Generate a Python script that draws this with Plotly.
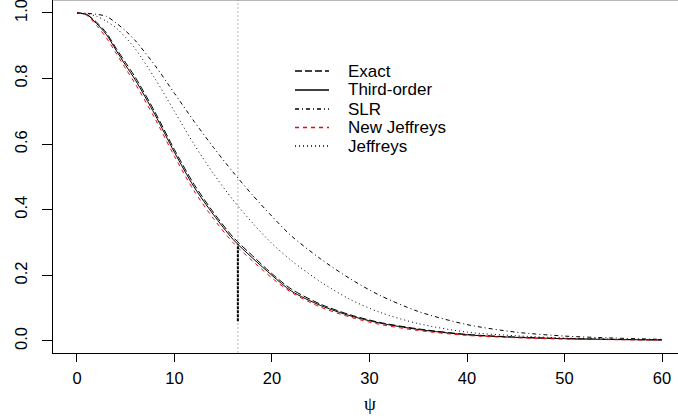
import plotly.graph_objects as go

# ---- data ----
psi = [0, 1, 2, 3, 4, 5, 6, 8, 10, 12, 14, 16, 18, 20, 22, 25, 28, 31, 35, 40, 45, 50, 55, 60]
exact = [1.000, 0.995, 0.972, 0.940, 0.893, 0.848, 0.803, 0.698, 0.583, 0.478, 0.392, 0.317,
         0.260, 0.205, 0.158, 0.112, 0.080, 0.057, 0.037, 0.020, 0.012, 0.0075, 0.005, 0.0035]
third_order = [1.000, 0.995, 0.968, 0.935, 0.887, 0.840, 0.795, 0.690, 0.575, 0.470, 0.385, 0.310,
               0.253, 0.200, 0.152, 0.108, 0.077, 0.055, 0.035, 0.019, 0.011, 0.007, 0.0045, 0.003]
slr = [1.000, 0.999, 0.996, 0.990, 0.970, 0.945, 0.915, 0.840, 0.755, 0.670, 0.590, 0.515,
       0.445, 0.380, 0.320, 0.250, 0.190, 0.140, 0.090, 0.050, 0.027, 0.015, 0.009, 0.005]
new_jeffreys = [1.000, 0.993, 0.962, 0.925, 0.878, 0.830, 0.783, 0.678, 0.563, 0.458, 0.373, 0.300,
                0.244, 0.192, 0.148, 0.103, 0.073, 0.051, 0.032, 0.017, 0.010, 0.006, 0.004, 0.003]
jeffreys = [1.000, 0.998, 0.990, 0.975, 0.955, 0.925, 0.890, 0.800, 0.700, 0.600, 0.510, 0.430,
            0.360, 0.297, 0.245, 0.180, 0.127, 0.088, 0.053, 0.027, 0.016, 0.009, 0.006, 0.004]

legend_labels = ["Exact", "Third-order", "SLR", "New Jeffreys", "Jeffreys"]
psi_obs = 16.5
obs_segment = [0.06, 0.295]
x_ticks = [0, 10, 20, 30, 40, 50, 60]
y_ticks = [0.0, 0.2, 0.4, 0.6, 0.8, 1.0]

# ---- styles ----
FONT = "Liberation Sans, Arial, sans-serif"
series = [exact, third_order, slr, new_jeffreys, jeffreys]
colors = ["black", "black", "black", "#ff0000", "black"]
dashes = ["7px,3px", "solid", "4px,3px,1px,3px", "4px,4px", "1px,3px"]

X_RANGE = [-2.46, 61.64]
Y_RANGE = [-0.0366, 1.0396]

fig = go.Figure()

# light grey reference line
fig.add_trace(go.Scatter(x=[psi_obs, psi_obs], y=Y_RANGE, mode="lines",
                         line=dict(color="#cfcfcf", width=1.5, dash="2px,2px"),
                         showlegend=False, hoverinfo="skip"))

for ys, c, d, name in zip(series, colors, dashes, legend_labels):
    fig.add_trace(go.Scatter(x=psi, y=ys, mode="lines", name=name,
                             line=dict(color=c, width=1, dash=d, shape="spline", smoothing=0.8),
                             showlegend=False))

# black vertical segment at observed psi
fig.add_trace(go.Scatter(x=[psi_obs, psi_obs], y=obs_segment, mode="lines",
                         line=dict(color="black", width=2, dash="3px,1px"),
                         showlegend=False, hoverinfo="skip"))

# ---- manual legend (R style, no box) ----
W, H = 678, 420
ML, MB = 53, 67
plot_w, plot_h = W - ML, H - MB


def px_x(p):
    return (p - ML) / plot_w


def px_y(p):
    return (plot_h - p) / plot_h


row_y = [71, 90, 109, 127.5, 146]
for lab, c, d, ry in zip(legend_labels, colors, dashes, row_y):
    fig.add_shape(type="line", xref="paper", yref="paper", layer="above",
                  x0=px_x(295), x1=px_x(329), y0=px_y(ry), y1=px_y(ry),
                  line=dict(color=c, width=1.3, dash=d))
    fig.add_annotation(xref="paper", yref="paper", x=px_x(346), y=px_y(ry),
                       text=lab, showarrow=False, xanchor="left", yanchor="middle",
                       font=dict(family=FONT, size=17, color="black"))

# top border of the (cropped) box
fig.add_shape(type="line", xref="paper", yref="paper", x0=0, x1=1, y0=1, y1=1,
              line=dict(color="#777777", width=1))

# x-axis title (psi)
fig.add_annotation(xref="x", yref="paper", x=30, y=px_y(403), text="ψ", showarrow=False,
                   xanchor="center", yanchor="middle",
                   font=dict(family="Liberation Serif, DejaVu Serif, serif", size=19, color="black"))

fig.update_layout(
    width=W, height=H,
    margin=dict(l=ML, r=0, t=0, b=MB, pad=0),
    paper_bgcolor="white", plot_bgcolor="white",
    font=dict(family=FONT, size=16, color="black"),
    showlegend=False,
    xaxis=dict(range=X_RANGE, tickvals=x_ticks, ticktext=[str(t) for t in x_ticks],
               showgrid=False, zeroline=False, showline=True, linecolor="black", linewidth=1,
               ticks="outside", ticklen=8, tickwidth=1, tickcolor="black",
               tickfont=dict(family=FONT, size=16.5, color="black"), ticklabelstandoff=2,
               ticklabeloverflow="allow"),
    yaxis=dict(range=Y_RANGE, tickvals=y_ticks, ticktext=[f"{t:.1f}" for t in y_ticks],
               showgrid=False, zeroline=False, showline=True, linecolor="black", linewidth=1,
               ticks="outside", ticklen=10, tickwidth=1, tickcolor="black", tickangle=-90,
               tickfont=dict(family=FONT, size=16.5, color="black"), ticklabelstandoff=8,
               ticklabeloverflow="allow"),
)

fig.write_html("out.html")
